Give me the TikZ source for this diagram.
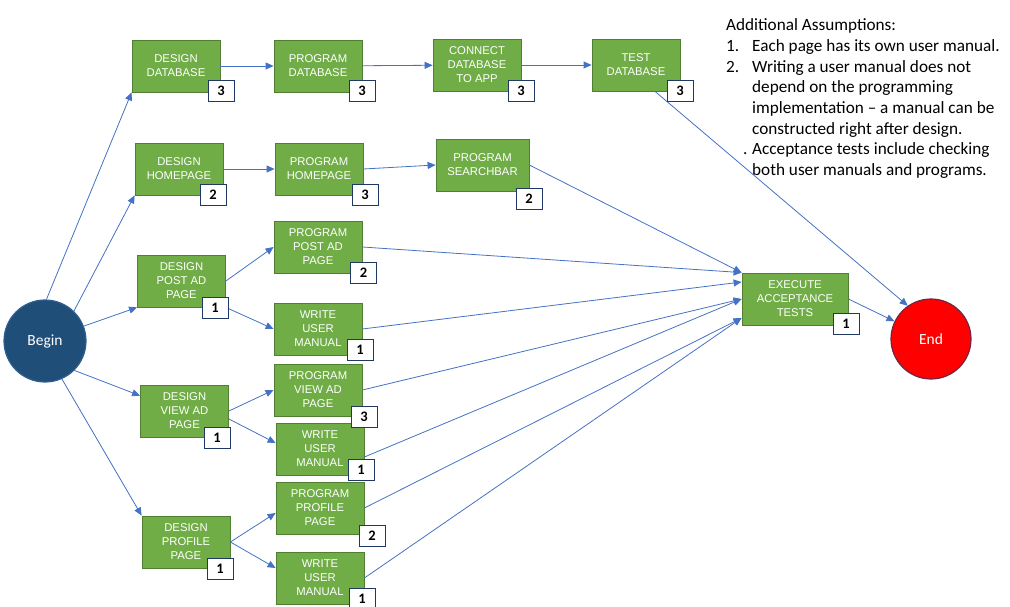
\documentclass[tikz,border=0pt]{standalone}
\usepackage{fontspec}
\setmainfont{Carlito}
\newfontfamily\arialfont{Liberation Sans}
\usetikzlibrary{shapes,arrows.meta}
\definecolor{taskgreen}{HTML}{70AD47}
\definecolor{taskline}{HTML}{507E32}
\definecolor{arrowblue}{HTML}{4472C4}
\definecolor{beginblue}{HTML}{1F4E79}
\definecolor{beginline}{HTML}{2E5F8E}
\definecolor{endred}{HTML}{FF0000}
\definecolor{endline}{HTML}{6E2846}
\definecolor{daysline}{HTML}{1F3864}
\tikzset{
	task/.style     = {draw=taskline, fill=taskgreen, line width=0.8pt, rectangle,
		minimum width=88pt, minimum height=52pt, inner sep=0pt, align=center,
		text=white, font=\arialfont\fontsize{11.3}{14}\selectfont},
	days/.style     = {draw=daysline, fill=white, line width=0.9pt, rectangle,
		minimum width=26pt, minimum height=21pt, inner sep=0pt, text=black,
		font=\bfseries\fontsize{14.5}{16}\selectfont},
	startnode/.style = {draw=beginline, fill=beginblue, circle, line width=1.2pt,
		minimum size=82pt, inner sep=0pt, text=white, font=\fontsize{15.5}{18}\selectfont},
	endnode/.style   = {draw=endline, fill=endred, circle, line width=1.2pt,
		minimum size=80pt, inner sep=0pt, text=white, font=\fontsize{15.5}{18}\selectfont},
	note/.style     = {anchor=north west, inner sep=0pt, align=left, text=black,
		font=\fontsize{17.2}{20.7}\selectfont}
}

\begin{document}
\begin{tikzpicture}[x=1pt, y=-1pt, >={Triangle[length=8pt,width=7pt]}]
	\useasboundingbox (0,0) rectangle (1010,607);
	\draw
	node at (45,341) [startnode] (bg) {Begin}
	node at (931,339) [endnode] (en) {End}
	node at (176,66) [task] (dd) {DESIGN\\DATABASE}
	node at (318,66) [task] (pd) {PROGRAM\\DATABASE}
	node at (477,65) [task] (cd) {CONNECT\\DATABASE\\TO APP}
	node at (636,65) [task] (td) {TEST\\DATABASE}
	node at (179,169) [task] (dh) {DESIGN\\HOMEPAGE}
	node at (319,169) [task] (ph) {PROGRAM\\HOMEPAGE}
	node at (482.5,165) [task, minimum width=93pt] (ps) {PROGRAM\\SEARCHBAR}
	node at (181.5,281) [task] (dpa) {DESIGN\\POST AD\\PAGE}
	node at (318,247) [task] (ppa) {PROGRAM\\POST AD\\PAGE}
	node at (318,329) [task] (wpa) {WRITE\\USER\\MANUAL}
	node at (184.5,411) [task] (dva) {DESIGN\\VIEW AD\\PAGE}
	node at (318,390) [task] (pva) {PROGRAM\\VIEW AD\\PAGE}
	node at (320,449) [task] (wva) {WRITE\\USER\\MANUAL}
	node at (186,542) [task] (dpp) {DESIGN\\PROFILE\\PAGE}
	node at (320,508) [task] (ppp) {PROGRAM\\PROFILE\\PAGE}
	node at (320,578) [task] (wpp) {WRITE\\USER\\MANUAL}
	node at (795,299) [task, minimum width=106pt] (eat) {EXECUTE\\ACCEPTANCE\\TESTS}
	node at (726,18.5) [note] (notes) {Additional Assumptions:\\
		\makebox[26pt][l]{1.}Each page has its own user manual.\\
		\makebox[26pt][l]{2.}Writing a user manual does not\\
		\hspace*{26pt}depend on the programming\\
		\hspace*{26pt}implementation – a manual can be\\
		\hspace*{26pt}constructed right after design.\\
		\makebox[26pt][l]{\hspace*{17pt}.}Acceptance tests include checking\\
		\hspace*{26pt}both user manuals and programs.}
	;
	\begin{scope}[color=arrowblue, line width=0.8pt]
	\draw[->](bg.88)--(dd.south west);
	\draw[->](bg.46)--(dh.south west);
	\draw[->](bg.21)--(dpa.south west);
	\draw[->](bg.-45)--(dva.161);
	\draw[->](bg.-66)--(dpp.north west);
	\draw[->](dd)--(pd);
	\draw[->](pd)--(cd);
	\draw[->](cd)--(td);
	\draw[->](dh)--(ph);
	\draw[->](ph.east)--(ps.west);
	\draw[->](dpa.east)--(ppa.west);
	\draw[->](dpa.south east)--(wpa.west);
	\draw[->](dva.east)--(pva.west);
	\draw[->]([yshift=-8pt]dva.east)--([yshift=6pt]wva.west);
	\draw[->](dpp.east)--([yshift=-5pt]ppp.west);
	\draw[->](dpp.east)--([yshift=10pt]wpp.west);
	\draw[->](ps.east)--(eat.north west);
	\draw[->](ppa.east)--(eat.north west);
	\draw[->](wpa.east)--([yshift=17pt]eat.west);
	\draw[->](pva.east)--(eat.west);
	\draw[->]([yshift=-8pt]wva.east)--(eat.west);
	\draw[->](ppp.east)--([yshift=-19pt]eat.west);
	\draw[->](wpp.east)--([yshift=-19pt]eat.west);
	\draw[->]([xshift=19pt]td.south)--(en.125);
	\draw[->](eat.east)--(en);
	\end{scope}
	% durations
	\draw
	node at (221,90.5) [days] (ddn) {3}
	node at (362,90.5) [days] (pdn) {3}
	node at (521,90.5) [days] (cdn) {3}
	node at (680,90.5) [days] (tdn) {3}
	node at (213,194.5) [days] (dhn) {2}
	node at (365,194.5) [days] (phn) {3}
	node at (529,198.5) [days] (psn) {2}
	node at (215,307.5) [days] (dpan) {1}
	node at (363.5,272.5) [days] (ppan) {2}
	node at (360,349.5) [days] (wpan) {1}
	node at (217,437.5) [days] (dvan) {1}
	node at (364,416.5) [days] (pvan) {3}
	node at (361,469.5) [days] (wvan) {1}
	node at (220,568.5) [days] (dppn) {1}
	node at (372,535.5) [days] (pppn) {2}
	node at (362,598.5) [days] (wppn) {1}
	node at (846,323.5) [days] (eatn) {1}
	;
\end{tikzpicture}
\end{document}
